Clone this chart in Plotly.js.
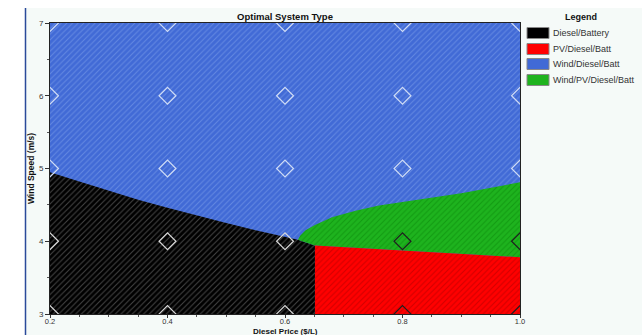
<!DOCTYPE html>
<html>
<head>
<meta charset="utf-8">
<script src="https://cdn.plot.ly/plotly-3.0.1.min.js"></script>
<style>html,body{margin:0;padding:0;background:#fff;}#chart{width:642px;height:335px;}</style>
</head>
<body>
<div id="chart"></div>
<script>
// ---- Data ----
const categories = ["Diesel/Battery", "PV/Diesel/Batt", "Wind/Diesel/Batt", "Wind/PV/Diesel/Batt"];
const xRange = [0.2, 1.0];
const yRange = [3, 7];
// Boundary between Diesel/Battery (below) and Wind/Diesel/Batt (above)
const blackTopX = [0.2, 0.25, 0.3, 0.35, 0.4, 0.45, 0.5, 0.55, 0.6, 0.622];
const blackTopY = [4.95, 4.82, 4.69, 4.57, 4.46, 4.35, 4.25, 4.15, 4.06, 4.02];
// Red region top edge (PV/Diesel/Batt)
const redX = [0.651, 1.0];
const redTopY = [3.94, 3.78];
// Green region top edge (Wind/PV/Diesel/Batt)
const greenTopX = [0.622, 0.626, 0.635, 0.65, 0.68, 0.72, 0.76, 0.8, 0.9, 1.0];
const greenTopY = [4.02, 4.08, 4.15, 4.22, 4.33, 4.42, 4.49, 4.54, 4.66, 4.81];
// Grid of sensitivity points (diamonds)
const gridX = [0.2, 0.4, 0.6, 0.8, 1.0];
const gridY = [3, 4, 5, 6, 7];
const xTickVals = [0.2, 0.4, 0.6, 0.8, 1.0];
const xTickText = ["0.2", "0.4", "0.6", "0.8", "1.0"];
const yTickVals = [3, 4, 5, 6, 7];
const yTickText = ["3", "4", "5", "6", "7"];

// ---- Styles ----
const colors = {"Diesel/Battery": "#000000", "PV/Diesel/Batt": "#ff0000", "Wind/Diesel/Batt": "#416ad6", "Wind/PV/Diesel/Batt": "#1eb31e"};
const hatch = {"Diesel/Battery": "#444444", "PV/Diesel/Batt": "#d00000", "Wind/Diesel/Batt": "#6489e2", "Wind/PV/Diesel/Batt": "#129a12"};
const font = "Liberation Sans, Arial, sans-serif";

function interp(xs, ys, x) {
  if (x <= xs[0]) return ys[0];
  for (let i = 1; i < xs.length; i++) {
    if (x <= xs[i]) return ys[i-1] + (ys[i]-ys[i-1]) * (x - xs[i-1]) / (xs[i]-xs[i-1]);
  }
  return ys[ys.length-1];
}

function regionTrace(name, xs, ys) {
  return {
    type: "scatter", mode: "lines", x: xs, y: ys, fill: "toself",
    fillcolor: colors[name], line: {width: 0, color: colors[name]},
    fillpattern: {shape: "/", fgcolor: hatch[name], bgcolor: colors[name], size: 4, solidity: 0.25},
    name: name, showlegend: false, hoverinfo: "skip"
  };
}

const blueX = [xRange[0], xRange[1], xRange[1], xRange[0]];
const blueY = [yRange[0], yRange[0], yRange[1], yRange[1]];
const blackX = [xRange[0]].concat(blackTopX, [redX[0], redX[0]]);
const blackY = [yRange[0]].concat(blackTopY, [redTopY[0], yRange[0]]);
const greenX = greenTopX.concat([redX[1], redX[0], greenTopX[0]]);
const greenY = greenTopY.concat([redTopY[1], redTopY[0], greenTopY[0]]);
const redPX = [redX[0], redX[0], redX[1], redX[1]];
const redPY = [yRange[0], redTopY[0], redTopY[1], yRange[0]];

const traces = [
  regionTrace("Wind/Diesel/Batt", blueX, blueY),
  regionTrace("Diesel/Battery", blackX, blackY),
  regionTrace("Wind/PV/Diesel/Batt", greenX, greenY),
  regionTrace("PV/Diesel/Batt", redPX, redPY)
];

const dx = [], dy = [], dc = [];
gridY.forEach(y => gridX.forEach(x => {
  dx.push(x); dy.push(y);
  let c;
  if (x <= 0.62) c = (y >= interp(blackTopX, blackTopY, x)) ? "#cfdcf5" : "#d8d8d8";
  else if (y >= interp(greenTopX, greenTopY, x)) c = "#cfdcf5";
  else c = "#202020";
  dc.push(c);
}));
traces.push({
  type: "scatter", mode: "markers", x: dx, y: dy, showlegend: false, hoverinfo: "skip",
  marker: {symbol: "diamond-open", size: 13, color: dc, line: {width: 1.2, color: dc}}
});

// ---- Layout ----
const L = 50, R = 520, T = 23, B = 314;
const px = v => (v - L) / (R - L);
const py = v => (B - v) / (B - T);

const shapes = [
  {type: "rect", xref: "paper", yref: "paper", x0: px(25), x1: px(645), y0: py(340), y1: py(8), fillcolor: "#f5faf8", line: {width: 0}, layer: "below"},
  {type: "line", xref: "paper", yref: "paper", x0: px(25.5), x1: px(25.5), y0: py(340), y1: py(8), line: {color: "#2a4a9a", width: 1.5}, layer: "above"}
];
const annotations = [
  {xref: "paper", yref: "paper", x: px(581), y: py(17), text: "<b>Legend</b>", showarrow: false, font: {family: font, size: 9, color: "#111"}, xanchor: "center", yanchor: "middle"},
  {xref: "paper", yref: "paper", x: px(285), y: py(331.5), text: "<b>Diesel Price ($/L)</b>", showarrow: false, font: {family: font, size: 8, color: "#111"}, xanchor: "center", yanchor: "middle", borderpad: 0}
];
const rowY = [33, 49, 64, 80];
categories.forEach((c, i) => {
  shapes.push({type: "rect", xref: "paper", yref: "paper", x0: px(527), x1: px(549), y0: py(rowY[i] + 5.5), y1: py(rowY[i] - 5.5),
    fillcolor: colors[c], line: {color: "#888", width: 1}, layer: "above"});
  annotations.push({xref: "paper", yref: "paper", x: px(551), y: py(rowY[i]), text: c, showarrow: false,
    font: {family: font, size: 9, color: "#333"}, xanchor: "left", yanchor: "middle"});
});

const layout = {
  width: 642, height: 335,
  margin: {l: L, r: 642 - R, t: T, b: 335 - B, pad: 0},
  paper_bgcolor: "#ffffff", plot_bgcolor: "#416ad6",
  showlegend: false,
  title: {text: "<b>Optimal System Type</b>", x: px(285), xref: "paper", y: 1 - 17/335, yanchor: "middle", font: {family: font, size: 9.5, color: "#111"}},
  xaxis: {
    range: xRange, tickvals: xTickVals, ticktext: xTickText, ticks: "outside", ticklen: 3, tickcolor: "#333",
    ticklabelstandoff: -3,
    minor: {dtick: 0.05, ticks: "outside", ticklen: 2, tickcolor: "#555"},
    showgrid: false, zeroline: false, showline: true, mirror: true, linecolor: "#222", linewidth: 1,
    tickfont: {family: font, size: 7.5, color: "#333"}
  },
  yaxis: {
    range: yRange, tickvals: yTickVals, ticktext: yTickText, ticks: "outside", ticklen: 4, tickcolor: "#333",
    minor: {dtick: 0.5, ticks: "outside", ticklen: 2, tickcolor: "#555"},
    showgrid: false, zeroline: false, showline: true, mirror: true, linecolor: "#222", linewidth: 1,
    tickfont: {family: font, size: 8, color: "#333"},
    title: {text: "<b>Wind Speed (m/s)</b>", standoff: 2, font: {family: font, size: 8.5, color: "#111"}}
  },
  shapes: shapes, annotations: annotations
};

Plotly.newPlot("chart", traces, layout, {displayModeBar: false, staticPlot: true});
</script>
</body>
</html>
